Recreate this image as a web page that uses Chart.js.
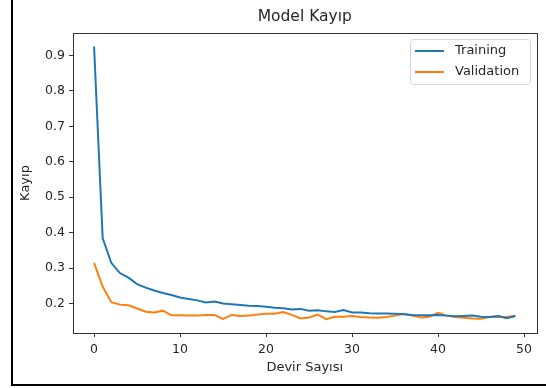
<!DOCTYPE html>
<html>
<head>
<meta charset="utf-8">
<script src="https://cdn.jsdelivr.net/npm/chart.js@4.4.1/dist/chart.umd.min.js"></script>
<style>
  html, body { margin: 0; padding: 0; background: #fff; }
  canvas { display: block; }
</style>
</head>
<body>
<canvas id="loss-chart" width="546" height="388"></canvas>
<script>
// epochs 0..49
const epochs = [
  0, 1, 2, 3, 4, 5, 6, 7, 8, 9, 10, 11, 12, 13, 14, 15, 16, 17, 18, 19,
  20, 21, 22, 23, 24, 25, 26, 27, 28, 29, 30, 31, 32, 33, 34, 35, 36, 37, 38, 39,
  40, 41, 42, 43, 44, 45, 46, 47, 48, 49
];

const trainingLoss = [
  0.925, 0.385, 0.315, 0.286, 0.273, 0.255, 0.245, 0.237, 0.230, 0.224,
  0.217, 0.213, 0.209, 0.203, 0.206, 0.200, 0.198, 0.196, 0.194, 0.193,
  0.191, 0.188, 0.187, 0.183, 0.185, 0.180, 0.181, 0.178, 0.176, 0.182,
  0.175, 0.175, 0.173, 0.172, 0.172, 0.171, 0.170, 0.168, 0.167, 0.167,
  0.168, 0.166, 0.164, 0.165, 0.166, 0.163, 0.162, 0.165, 0.159, 0.165
];

const validationLoss = [
  0.315, 0.248, 0.204, 0.197, 0.195, 0.186, 0.177, 0.175, 0.180, 0.167,
  0.167, 0.166, 0.166, 0.168, 0.168, 0.157, 0.168, 0.165, 0.166, 0.169,
  0.171, 0.171, 0.176, 0.168, 0.158, 0.161, 0.169, 0.156, 0.163, 0.163,
  0.165, 0.162, 0.161, 0.160, 0.162, 0.166, 0.171, 0.166, 0.161, 0.163,
  0.174, 0.166, 0.162, 0.160, 0.158, 0.157, 0.162, 0.163, 0.162, 0.166
];

const xTicks = [0, 10, 20, 30, 40, 50];
const yTicks = [0.2, 0.3, 0.4, 0.5, 0.6, 0.7, 0.8, 0.9];

const titleText = "Model Kayıp";
const xLabel = "Devir Sayısı";
const yLabel = "Kayıp";
const seriesNames = ["Training", "Validation"];

const BLUE = "#1f77b4";
const ORANGE = "#ff7f0e";
const FONT = "'DejaVu Sans', sans-serif";
const TXT = "#262626";

// frame, spines, title, axis labels and legend box
const decor = {
  id: "decor",
  afterDraw(chart) {
    const c = chart.ctx;
    const a = chart.chartArea;
    c.save();

    // outer black frame (left + bottom visible in the screenshot)
    c.strokeStyle = "#000";
    c.lineWidth = 2;
    c.beginPath();
    c.moveTo(12, 0);
    c.lineTo(12, 385);
    c.lineTo(546, 385);
    c.stroke();

    // spines
    c.strokeStyle = "#333";
    c.lineWidth = 1;
    c.strokeRect(Math.round(a.left) + 0.5, Math.round(a.top) + 0.5,
      Math.round(a.right - a.left), Math.round(a.bottom - a.top));

    c.fillStyle = TXT;
    c.textAlign = "center";
    c.textBaseline = "middle";
    c.font = "15.5px " + FONT;
    c.fillText(titleText, (a.left + a.right) / 2, 17);

    c.font = "13px " + FONT;
    c.fillText(xLabel, (a.left + a.right) / 2, 368);

    c.save();
    c.translate(26, (a.top + a.bottom) / 2);
    c.rotate(-Math.PI / 2);
    c.fillText(yLabel, 0, 0);
    c.restore();

    // legend
    const bx = 410.5, by = 39.5, bw = 120, bh = 45, r = 3;
    c.fillStyle = "rgba(255,255,255,0.8)";
    c.strokeStyle = "#d6d6d6";
    c.lineWidth = 1;
    c.beginPath();
    c.moveTo(bx + r, by);
    c.lineTo(bx + bw - r, by);
    c.arcTo(bx + bw, by, bx + bw, by + r, r);
    c.lineTo(bx + bw, by + bh - r);
    c.arcTo(bx + bw, by + bh, bx + bw - r, by + bh, r);
    c.lineTo(bx + r, by + bh);
    c.arcTo(bx, by + bh, bx, by + bh - r, r);
    c.lineTo(bx, by + r);
    c.arcTo(bx, by, bx + r, by, r);
    c.closePath();
    c.fill();
    c.stroke();

    const rows = [[seriesNames[0], BLUE, 51], [seriesNames[1], ORANGE, 72]];
    c.font = "13px " + FONT;
    c.textAlign = "left";
    rows.forEach(([name, col, y]) => {
      c.strokeStyle = col;
      c.lineWidth = 2;
      c.beginPath();
      c.moveTo(415, y);
      c.lineTo(444, y);
      c.stroke();
      c.fillStyle = TXT;
      c.fillText(name, 455, y);
    });

    c.restore();
  },
};

new Chart(document.getElementById("loss-chart"), {
  type: "line",
  data: {
    labels: epochs,
    datasets: [
      {
        label: seriesNames[0],
        data: epochs.map((e, i) => ({ x: e, y: trainingLoss[i] })),
        borderColor: BLUE,
        borderWidth: 2,
        pointRadius: 0,
        tension: 0,
      },
      {
        label: seriesNames[1],
        data: epochs.map((e, i) => ({ x: e, y: validationLoss[i] })),
        borderColor: ORANGE,
        borderWidth: 2,
        pointRadius: 0,
        tension: 0,
      },
    ],
  },
  options: {
    responsive: false,
    animation: false,
    devicePixelRatio: 1,
    layout: { padding: { left: 0, top: 33, right: 9.5, bottom: 0 } },
    plugins: {
      legend: { display: false },
      tooltip: { enabled: false },
    },
    scales: {
      x: {
        type: "linear",
        min: -2.45,
        max: 51.45,
        afterBuildTicks(scale) {
          scale.ticks = xTicks.map((v) => ({ value: v }));
        },
        afterFit(scale) {
          scale.height = 55;
        },
        ticks: {
          color: TXT,
          padding: 5,
          maxRotation: 0,
          font: { size: 12.5, family: FONT },
          callback: (v) => String(v),
        },
        grid: { drawOnChartArea: false, drawTicks: true, tickLength: 4, color: "#333" },
        border: { display: false },
      },
      y: {
        min: 0.117,
        max: 0.963,
        afterBuildTicks(scale) {
          scale.ticks = yTicks.map((v) => ({ value: v }));
        },
        afterFit(scale) {
          scale.width = 73;
        },
        ticks: {
          color: TXT,
          padding: 4,
          font: { size: 12.5, family: FONT },
          callback: (v) => Number(v).toFixed(1),
        },
        grid: { drawOnChartArea: false, drawTicks: true, tickLength: 4, color: "#333" },
        border: { display: false },
      },
    },
  },
  plugins: [decor],
});
</script>
</body>
</html>
